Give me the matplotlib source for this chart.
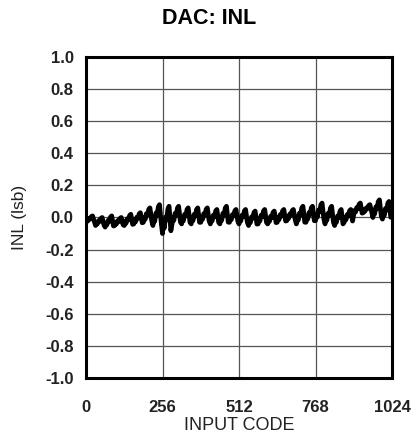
import matplotlib
matplotlib.use("Agg")
import matplotlib.pyplot as plt
import numpy as np

plt.rcParams['font.family'] = ['Liberation Sans', 'DejaVu Sans']

title = "DAC: INL"
x_label = "INPUT CODE"
y_label = "INL (lsb)"
x_ticks = [0, 256, 512, 768, 1024]
y_ticks = [-1.0, -0.8, -0.6, -0.4, -0.2, 0.0, 0.2, 0.4, 0.6, 0.8, 1.0]
y_tick_labels = ["-1.0", "-0.8", "-0.6", "-0.4", "-0.2", "0.0", "0.2", "0.4", "0.6", "0.8", "1.0"]

# Per ~32-code segment, trough (segment start) and peak values
tooth_peaks = [0.01, 0.00, 0.01, 0.00, 0.02, 0.03, 0.06, 0.08,
               0.07, 0.07, 0.06, 0.06, 0.06, 0.05, 0.07, 0.05,
               0.05, 0.04, 0.05, 0.04, 0.05, 0.05, 0.07, 0.07,
               0.09, 0.07, 0.05, 0.05, 0.09, 0.08, 0.11, 0.10]
tooth_troughs = [-0.03, -0.05, -0.06, -0.05, -0.05, -0.04, -0.03, -0.05,
                 -0.10, -0.04, -0.04, -0.04, -0.03, -0.04, -0.04, -0.03,
                 -0.04, -0.05, -0.04, -0.04, -0.03, -0.02, -0.04, -0.03,
                 -0.02, -0.04, -0.05, -0.03, 0.02, 0.03, 0.00, -0.01]
tooth_codes = [0, 32, 64, 96, 128, 160, 192, 224, 256, 288, 320, 352, 384, 416, 448, 480,
               512, 544, 576, 608, 640, 672, 704, 736, 768, 800, 832, 864, 896, 928, 960, 992]

xs, ys = [], []
for c, lo, hi in zip(tooth_codes, tooth_troughs, tooth_peaks):
    d = hi - lo
    xs += [c, c + 3, c + 6, c + 10, c + 14, c + 18, c + 22, c + 25, c + 28]
    ys += [lo, lo + 0.35 * d, lo + 0.2 * d, lo + 0.6 * d, lo + 0.5 * d,
           lo + 0.9 * d, hi, lo + 0.55 * d, lo + 0.1 * d]
xs.append(1023)
ys.append(tooth_troughs[-1] + 0.02)

fig = plt.figure(figsize=(4.19, 4.44), dpi=100)
ax = fig.add_axes([86/419, 1 - 378/444, (392-86)/419, (378-57)/444])
ax.plot(xs, ys, color='black', linewidth=3.4, solid_joinstyle='round')

ax.set_xlim(0, 1024)
ax.set_ylim(-1.0, 1.0)
ax.set_xticks(x_ticks)
ax.set_xticklabels([str(t) for t in x_ticks], fontsize=12, fontweight='bold', color='#222222')
ax.set_yticks(y_ticks)
ax.set_yticklabels(y_tick_labels, fontsize=12, fontweight='bold', color='#222222')
ax.tick_params(length=0, pad=9)
ax.tick_params(axis='x', pad=16)
ax.grid(True, color='#555555', linewidth=0.9)
for s in ax.spines.values():
    s.set_linewidth(2.2)
    s.set_color('black')

ax.set_xlabel(x_label, fontsize=13, color='#222222', labelpad=1)
ax.set_ylabel(y_label, fontsize=12.5, color='#222222', labelpad=13)
fig.text(0.5, 1 - 18/444, title, ha='center', va='center', fontsize=15.5, fontweight='bold')

fig.savefig("out.png", dpi=100)
